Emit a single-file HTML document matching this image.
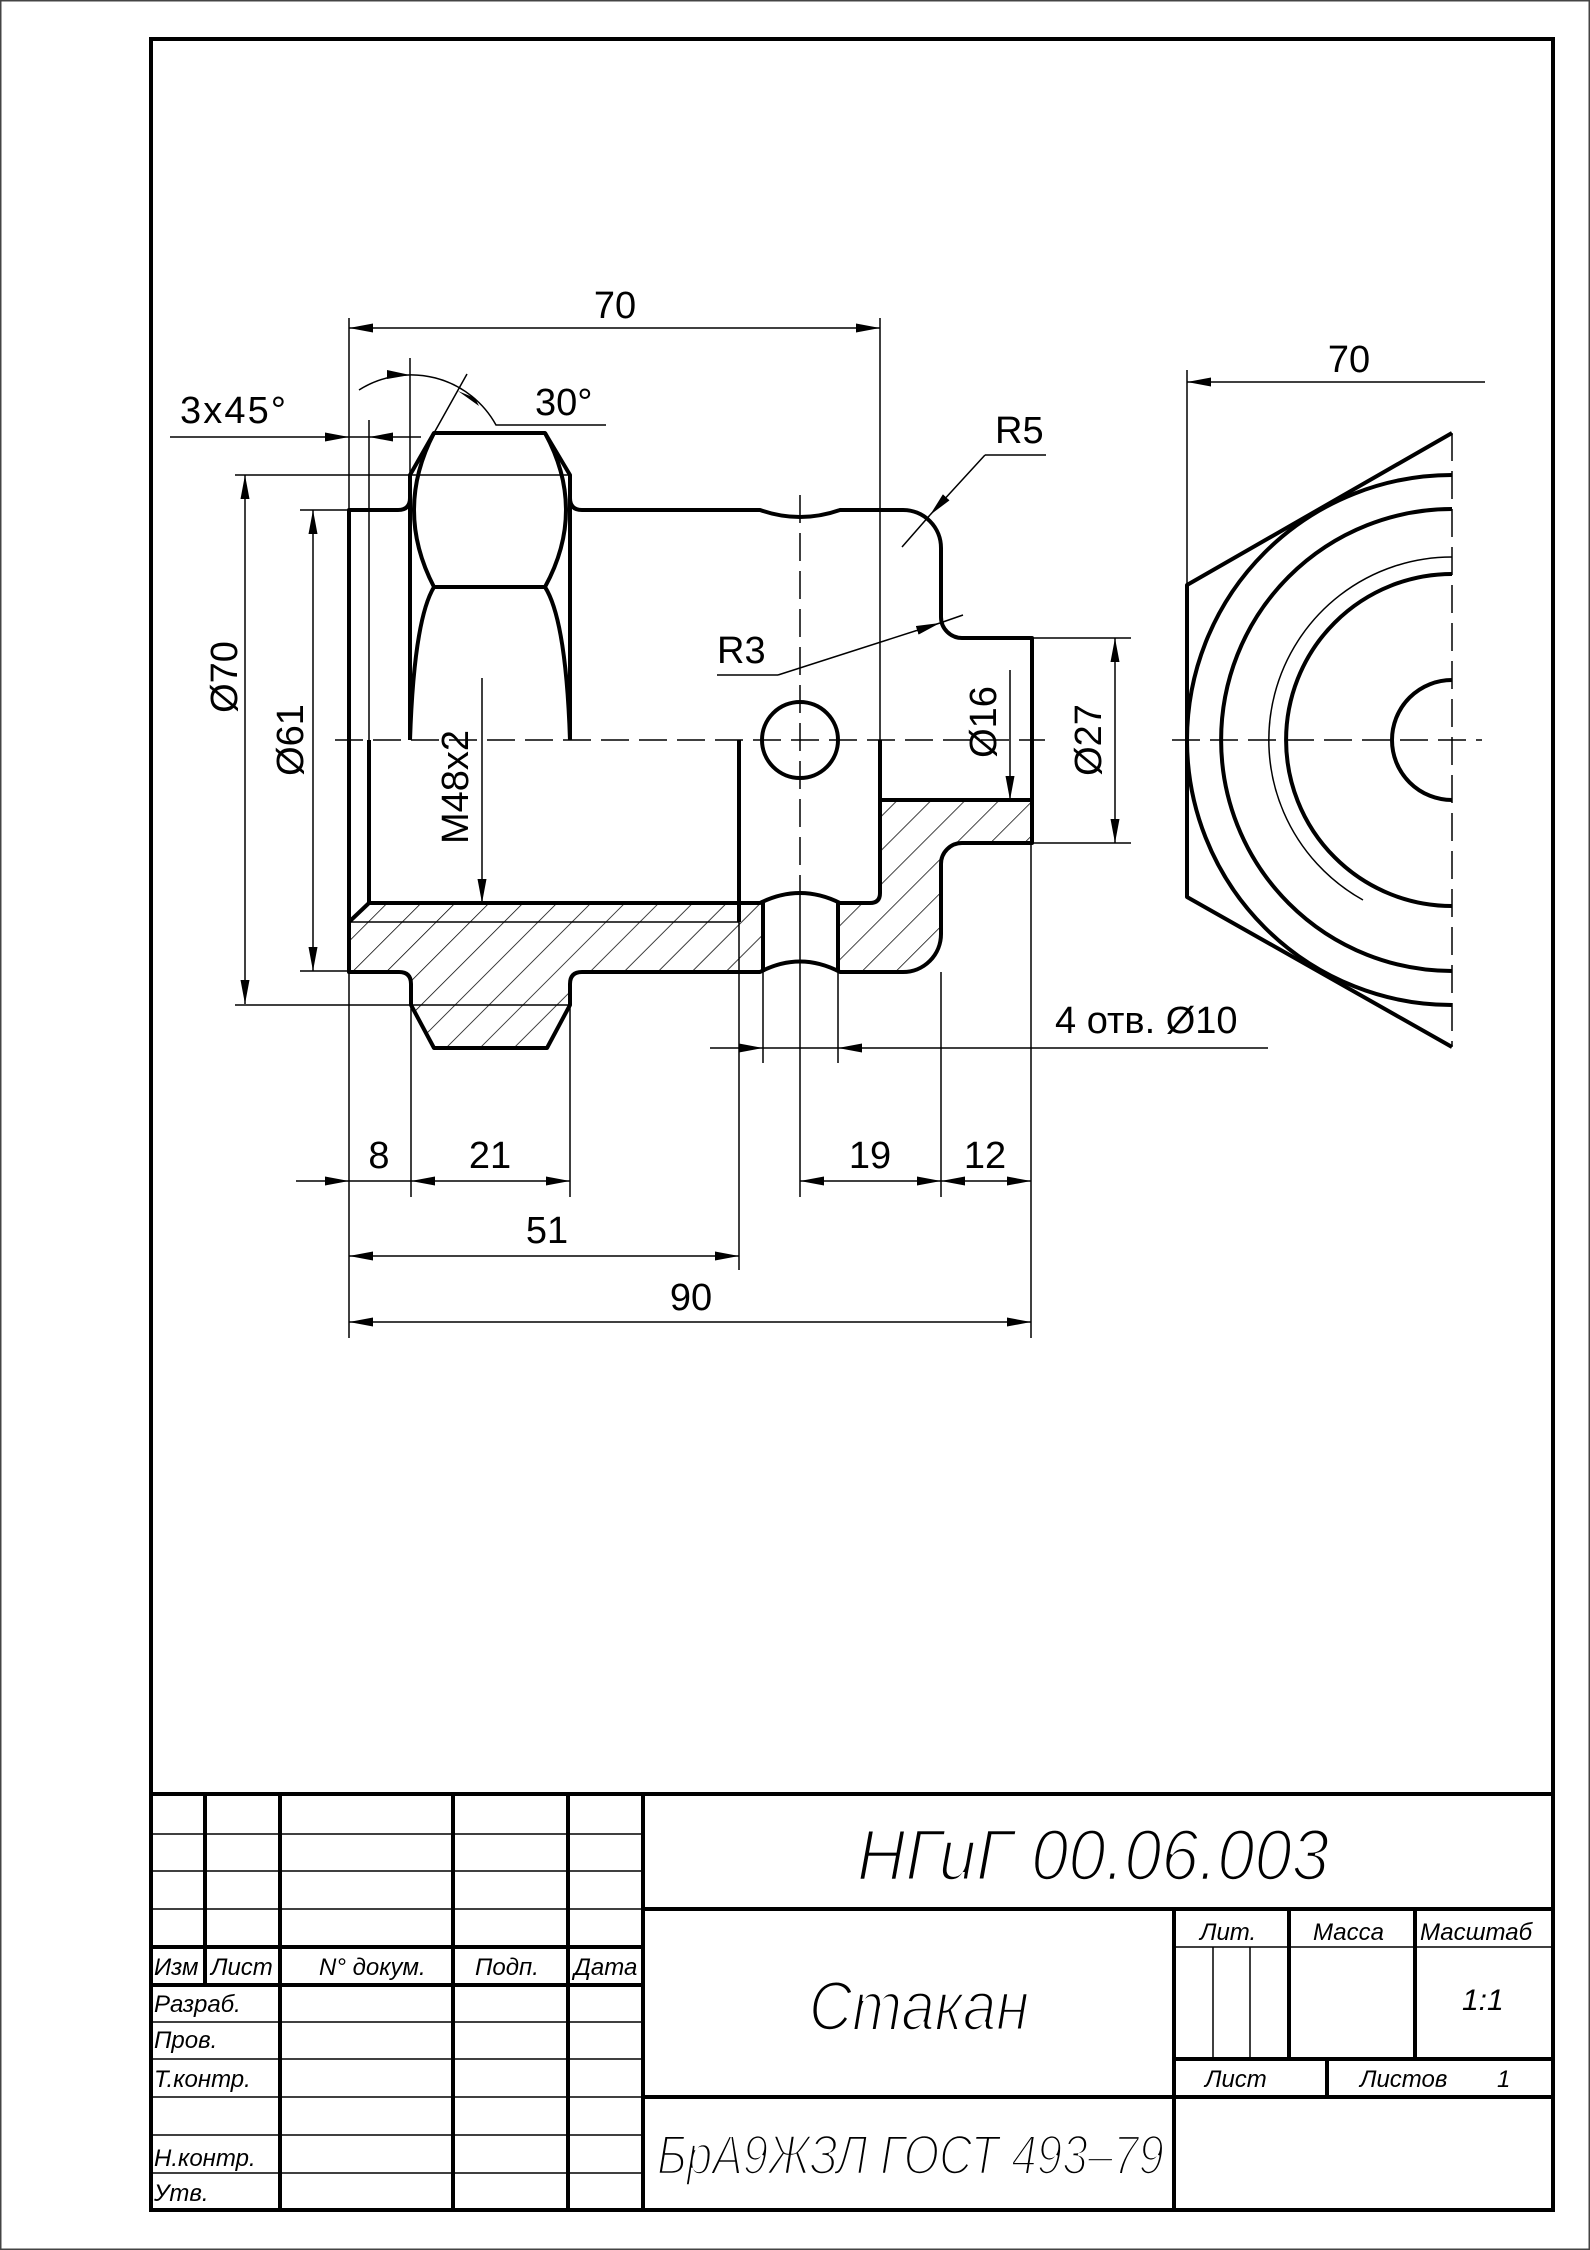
<!DOCTYPE html>
<html><head><meta charset="utf-8"><style>
html,body{margin:0;padding:0;background:#fff}
svg{display:block}
text{font-family:"Liberation Sans",sans-serif;fill:#000}
.t{font-style:italic}
.thin{stroke:#fff;stroke-width:2.6px}
</style></head><body>
<svg width="1590" height="2250" viewBox="0 0 1590 2250" xmlns="http://www.w3.org/2000/svg">
<defs>
<marker id="a" viewBox="0 0 24 9" refX="24" refY="4.5" markerWidth="24" markerHeight="9" orient="auto-start-reverse" markerUnits="userSpaceOnUse"><path d="M0,0 L24,4.5 L0,9 z" fill="#000"/></marker>
<pattern id="h" patternUnits="userSpaceOnUse" width="24" height="24" patternTransform="rotate(45)"><line x1="0" y1="0" x2="0" y2="24" stroke="#000" stroke-width="1.5"/></pattern>
</defs>
<rect x="0.75" y="0.75" width="1588.5" height="2248.5" fill="none" stroke="#444" stroke-width="1.5"/>
<rect x="151" y="39" width="1402" height="2171" fill="none" stroke="#000" stroke-width="4"/>

<path d="M349,922 L369,903 L763,903 L763,972 L582,972 Q570,972 570,984 L570,1005 L547,1048 L434,1048 L411,1005 L411,984 Q411,972 399,972 L349,972 Z" fill="url(#h)"/>
<path d="M838,903 L870,903 Q880,903 880,893 L880,800 L1032,800 L1032,843 L962,843 A21,21 0 0 0 941,864 L941,934 A38,38 0 0 1 903,972 L838,972 Z" fill="url(#h)"/>

<g fill="none" stroke="#000" stroke-width="4" stroke-linejoin="round">
<path d="M349,972 L349,510 L398,510 Q410,510 410,498 L410,475 L434,433 L545,433 L570,475 L570,498 Q570,510 582,510 L760,510 Q800,524 840,510 L903,510 A38,38 0 0 1 941,548 L941,617 A21,21 0 0 0 962,638 L1032,638 L1032,843 L962,843 A21,21 0 0 0 941,864 L941,934 A38,38 0 0 1 903,972 L840,972 Q800,951 760,972 L582,972 Q570,972 570,984 L570,1005 L547,1048 L434,1048 L411,1005 L411,984 Q411,972 399,972 Z"/>
<path d="M410,475 L410,740 M570,475 L570,740"/>
<path d="M434,433 Q394,510 434,587 M545,433 Q587,510 545,587 M434,587 L545,587 M434,587 Q414,620 410,740 M545,587 Q566,620 570,740"/>
<path d="M369,740 L369,903 M349,922 L369,903 L760,903 Q800,883 840,903 L870,903 Q880,903 880,893 L880,740 M880,800 L1032,800"/>
<path d="M739,740 L739,922 M763,903 L763,972 M838,903 L838,972"/>
<circle cx="800" cy="740" r="38"/>
<path d="M1452,433 L1187,585 L1187,897 L1452,1047"/>
<path d="M1452,475 A265,265 0 0 0 1452,1005 M1452,509 A231,231 0 0 0 1452,971 M1452,574 A166,166 0 0 0 1452,906 M1452,680 A60,60 0 0 0 1452,800"/>
</g>

<g fill="none" stroke="#000" stroke-width="1.5">
<path d="M1452,557 A183,183 0 0 0 1363,900"/>
<path d="M335,740 L1045,740 M1172,740 L1482,740 M1452,433 L1452,1047 M800,495 L800,880" stroke-dasharray="28,10"/>
<path d="M349,922 L739,922"/>
<path d="M349,318 L349,510 M880,318 L880,740 M369,420 L369,740 M410,358 L410,475 M434,433 L467,374 M235,475 L570,475 M235,1005 L570,1005 M300,510 L349,510 M300,971 L349,971 M1032,638 L1131,638 M1032,843 L1131,843 M763,972 L763,1063 M838,972 L838,1063 M739,922 L739,1270 M349,972 L349,1338 M411,1005 L411,1197 M570,1005 L570,1197 M800,880 L800,1197 M941,972 L941,1197 M1031,843 L1031,1338 M1187,370 L1187,585"/>
<path d="M349,328 L880,328" marker-start="url(#a)" marker-end="url(#a)"/>
<path d="M170,437 L349,437" marker-end="url(#a)"/>
<path d="M421,437 L369,437" marker-end="url(#a)"/>
<path d="M349,437 L369,437"/>
<path d="M359,390 A97,97 0 0 1 496,425 L606,425"/>
<path d="M245,475 L245,1004" marker-start="url(#a)" marker-end="url(#a)"/>
<path d="M313,510 L313,971" marker-start="url(#a)" marker-end="url(#a)"/>
<path d="M482,678 L482,903" marker-end="url(#a)"/>
<path d="M985,455 L930,515" marker-end="url(#a)"/>
<path d="M930,515 L902,547 M985,455 L1046,455"/>
<path d="M778,675 L940,623" marker-end="url(#a)"/>
<path d="M940,623 L963,615 M717,675 L778,675"/>
<path d="M1010,670 L1010,800" marker-end="url(#a)"/>
<path d="M1115,638 L1115,843" marker-start="url(#a)" marker-end="url(#a)"/>
<path d="M710,1048 L763,1048" marker-end="url(#a)"/>
<path d="M1268,1048 L838,1048" marker-end="url(#a)"/>
<path d="M763,1048 L838,1048"/>
<path d="M296,1181 L349,1181" marker-end="url(#a)"/>
<path d="M349,1181 L411,1181"/>
<path d="M411,1181 L570,1181" marker-start="url(#a)" marker-end="url(#a)"/>
<path d="M800,1181 L941,1181" marker-start="url(#a)" marker-end="url(#a)"/>
<path d="M941,1181 L1031,1181" marker-start="url(#a)" marker-end="url(#a)"/>
<path d="M349,1256 L739,1256" marker-start="url(#a)" marker-end="url(#a)"/>
<path d="M349,1322 L1031,1322" marker-start="url(#a)" marker-end="url(#a)"/>
<path d="M1485,382 L1187,382" marker-end="url(#a)"/>
</g>
<path d="M410,375 L387,370 L387,379 Z" fill="#000"/>
<path d="M458,391 L479,406 L475,398 Z" fill="#000"/>

<g font-size="38">
<text x="615" y="318" text-anchor="middle">70</text>
<text x="1349" y="372" text-anchor="middle">70</text>
<text x="180" y="423" textLength="106">3x45°</text>
<text x="535" y="415">30°</text>
<text x="995" y="443">R5</text>
<text x="717" y="663">R3</text>
<text x="379" y="1168" text-anchor="middle">8</text>
<text x="490" y="1168" text-anchor="middle">21</text>
<text x="870" y="1168" text-anchor="middle">19</text>
<text x="985" y="1168" text-anchor="middle">12</text>
<text x="547" y="1243" text-anchor="middle">51</text>
<text x="691" y="1310" text-anchor="middle">90</text>
<text x="1055" y="1033">4 отв. Ø10</text>
<text transform="translate(237,677) rotate(-90)" text-anchor="middle">Ø70</text>
<text transform="translate(303,740) rotate(-90)" text-anchor="middle">Ø61</text>
<text transform="translate(468,787) rotate(-90)" text-anchor="middle">M48x2</text>
<text transform="translate(996,722) rotate(-90)" text-anchor="middle">Ø16</text>
<text transform="translate(1101,740) rotate(-90)" text-anchor="middle">Ø27</text>
</g>

<g stroke="#000" fill="none">
<path stroke-width="4" d="M151,1794 L1553,1794 M205,1794 L205,1985 M280,1794 L280,2210 M453,1794 L453,2210 M568,1794 L568,2210 M643,1794 L643,2210 M151,1947 L643,1947 M151,1985 L643,1985 M643,1909 L1553,1909 M643,2097 L1553,2097 M1174,1909 L1174,2210 M1174,2059 L1553,2059 M1289,1909 L1289,2059 M1415,1909 L1415,2059 M1327,2059 L1327,2097"/>
<path stroke-width="1.5" d="M151,1834 L643,1834 M151,1871 L643,1871 M151,1909 L643,1909 M151,2022 L643,2022 M151,2059 L643,2059 M151,2097 L643,2097 M151,2135 L643,2135 M151,2173 L643,2173 M1174,1947 L1553,1947 M1213,1947 L1213,2059 M1250,1947 L1250,2059"/>
</g>
<g font-size="24">
<text x="154" y="1975" class="t">Изм</text>
<text x="211" y="1975" class="t">Лист</text>
<text x="319" y="1975" class="t">N° докум.</text>
<text x="475" y="1975" class="t">Подп.</text>
<text x="574" y="1975" class="t">Дата</text>
<text x="154" y="2012" class="t">Разраб.</text>
<text x="154" y="2048" class="t">Пров.</text>
<text x="154" y="2087" class="t">Т.контр.</text>
<text x="154" y="2166" class="t">Н.контр.</text>
<text x="154" y="2201" class="t">Утв.</text>
<text x="1200" y="1940" class="t">Лит.</text>
<text x="1313" y="1940" class="t">Масса</text>
<text x="1420" y="1940" class="t">Масштаб</text>
<text x="1205" y="2087" class="t">Лист</text>
<text x="1360" y="2087" class="t">Листов</text>
<text x="1497" y="2087" class="t">1</text>
<text x="1462" y="2010" class="t" font-size="30">1:1</text>
</g>
<text x="857" y="1880" class="t thin" font-size="72" textLength="472" lengthAdjust="spacingAndGlyphs">НГиГ 00.06.003</text>
<text x="809" y="2030" class="t thin" font-size="70" textLength="220" lengthAdjust="spacingAndGlyphs">Стакан</text>
<text x="657" y="2174" class="t thin" font-size="56" textLength="507" lengthAdjust="spacingAndGlyphs">БрА9ЖЗЛ ГОСТ 493–79</text>
</svg>
</body></html>
